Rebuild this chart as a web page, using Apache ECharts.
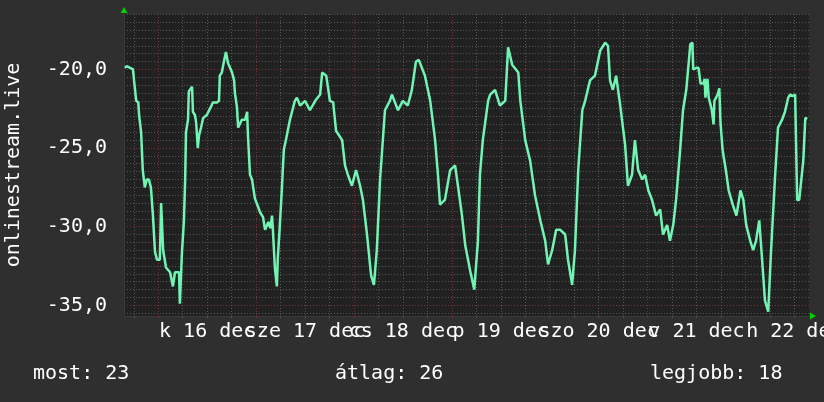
<!DOCTYPE html>
<html><head><meta charset="utf-8">
<script src="https://cdn.jsdelivr.net/npm/echarts@6/dist/echarts.min.js"></script>
<style>html,body{margin:0;padding:0;background:#2f2f2f}#c{width:824px;height:402px}</style>
</head><body><div id="c"></div>
<script>
// hours relative to 16 dec 00:00
const hours = [-8.2,-7.7,-6.9,-6.2,-5.9,-5.4,-4.9,-4.7,-4.2,-3.8,-3.3,-2.8,-2.3,-1.8,-1.3,-0.8,-0.3,0.4,0.7,1.2,1.9,2.9,3.6,4.1,5.1,5.3,5.8,6.3,6.6,
6.8,7.3,7.5,8.3,8.5,9.0,9.3,9.7,10.0,10.5,11.0,11.9,12.7,13.4,14.4,14.9,15.1,15.6,16.1,16.6,17.1,18.1,18.6,18.8,19.3,19.6,20.0,20.5,21.3,21.8,22.0,22.5,23.0,
23.7,25.0,25.7,26.2,27.0,27.5,27.9,28.1,28.6,29.1,29.3,29.8,30.3,30.8,31.3,32.3,33.5,34.0,34.8,36.0,37.2,38.5,39.7,40.2,41.2,42.1,42.9,43.6,45.1,45.8,46.5,47.5,48.5,49.5,50.2,51.2,52.2,52.9,53.6,54.4,
55.6,56.8,57.3,58.8,60.0,61.2,62.2,63.2,63.9,65.4,66.7,67.9,68.6,69.1,70.3,71.6,72.8,73.5,74.5,75.3,76.5,77.5,78.4,78.9,79.6,
80.9,81.4,82.6,83.8,85.1,85.8,86.8,88.3,88.8,90.0,91.2,92.4,93.7,94.9,95.6,96.6,97.6,98.6,99.8,100.5,101.5,102.2,103.0,104.0,
104.7,105.9,107.1,108.4,109.6,110.3,110.8,111.5,112.3,113.3,114.5,115.2,116.2,116.9,117.7,118.7,119.4,120.2,121.1,122.1,123.1,123.8,124.8,125.5,126.3,127.0,128.0,128.7,
129.5,130.5,131.0,131.2,132.0,132.5,133.0,133.7,134.0,134.2,134.7,135.0,135.4,135.7,136.2,136.4,137.2,137.6,137.9,138.4,139.2,139.9,140.9,141.8,142.8,143.5,144.2,145.2,145.9,146.6,147.4,148.1,148.8,149.6,150.3,151.3,152.0,153.0,153.7,154.5,155.0,155.7,156.2,156.7,157.2,158.2,158.7,159.2];
const values = [-19.9,-19.8,-19.9,-20.0,-20.8,-22.0,-22.1,-22.9,-24.0,-26.4,-27.5,-27.0,-27.0,-27.5,-29.3,-31.6,-32.1,-32.1,-28.5,-31.5,-32.6,-32.9,-33.8,-32.9,-32.9,-34.9,-31.7,-29.6,-27.0,
-24.0,-23.2,-21.4,-21.1,-22.7,-22.9,-23.4,-25.0,-24.2,-23.7,-23.1,-22.9,-22.5,-22.1,-22.1,-22.0,-20.4,-20.2,-19.5,-18.9,-19.6,-20.2,-20.7,-21.5,-22.4,-23.7,-23.7,-23.2,-23.2,-22.7,-24.2,-26.7,-27.0,
-28.2,-29.1,-29.4,-30.2,-29.7,-30.1,-29.3,-30.1,-32.6,-33.8,-32.1,-30.0,-27.7,-25.1,-24.5,-23.2,-22.0,-21.8,-22.3,-22.0,-22.6,-22.0,-21.6,-20.2,-20.4,-22.0,-22.1,-23.9,-24.5,-26.1,-26.7,-27.4,-26.4,-27.4,-28.3,-30.5,-33.1,-33.7,-31.5,-27.0,
-22.6,-22.0,-21.6,-22.6,-22.0,-22.3,-21.3,-19.5,-19.4,-20.4,-22.0,-24.5,-26.7,-28.6,-28.3,-26.4,-26.1,-27.4,-29.3,-31.2,-32.8,-34.0,-30.9,-26.7,-24.5,
-22.0,-21.6,-21.3,-22.3,-22.0,-18.6,-19.7,-20.2,-22.0,-24.5,-25.8,-28.0,-29.6,-30.9,-32.4,-31.5,-30.2,-30.2,-30.5,-32.1,-33.7,-31.5,-26.4,-22.6,
-22.0,-20.7,-20.4,-18.8,-18.3,-18.5,-20.7,-21.3,-20.4,-22.3,-24.8,-27.4,-26.7,-24.5,-26.4,-27.0,-26.7,-27.7,-28.3,-29.3,-28.9,-30.5,-29.9,-30.9,-29.9,-28.3,-25.1,-22.6,
-21.3,-18.4,-18.3,-20.0,-19.9,-19.9,-20.9,-20.9,-20.6,-21.8,-20.6,-21.8,-21.8,-22.5,-23.5,-22.0,-21.6,-21.2,-23.4,-25.1,-26.4,-27.7,-28.6,-29.3,-27.7,-28.3,-29.9,-30.9,-31.5,-30.9,-29.6,-32.1,-34.7,-35.4,-31.5,-26.7,-23.7,-23.2,-22.7,-21.8,-21.6,-21.7,-21.6,-28.3,-28.3,-25.8,-23.1,-23.1];

const dayLabels = ['k 16 dec','sze 17 dec','cs 18 dec','p 19 dec','szo 20 dec','v 21 dec','h 22 dec'];
const dayLabelHours = [12,36,60,84,108,132,156];
const dayStartHours = [0,24,48,72,96,120,144];
const yMajorTicks = [-35,-30,-25,-20];
const yAxisTitle = 'onlinestream.live';
const legendTexts = ['most: 23','átlag: 26','legjobb: 18'];

const X_MIN = -8.4, X_MAX = 159.6, Y_MIN = -35.68, Y_MAX = -16.48;
const minorX = [];
for (let h = -6; h <= 156; h += 6) if (h % 24 !== 0) minorX.push(h);
const minorY = [];
for (let v = -35.5; v <= -16.5; v += 0.5) if (Math.abs(v % 5) > 0.01) minorY.push(v);
// labels split over two axes so that overlapping neighbours are both drawn
const labelsEven = dayLabelHours.filter((h, i) => i % 2 === 0);
const labelsOdd = dayLabelHours.filter((h, i) => i % 2 === 1);

const FONT = 'DejaVu Sans Mono';
const gray = { color: '#565656', type: [1, 2], width: 1 };
const red = { color: '#7a3232', type: [1, 2], width: 1 };

const chart = echarts.init(document.getElementById('c'), null, { renderer: 'canvas' });
const baseX = { type: 'value', min: X_MIN, max: X_MAX, gridIndex: 0, position: 'bottom', offset: 0 };
const baseY = { type: 'value', min: Y_MIN, max: Y_MAX, gridIndex: 0, position: 'left', offset: 0 };
const noLine = { show: false, onZero: false };
const labelAxis = vals => Object.assign({}, baseX, {
  axisLine: noLine, axisTick: { show: false }, splitLine: { show: false },
  axisLabel: {
    show: true, customValues: vals, margin: 6, hideOverlap: false,
    showMinLabel: true, showMaxLabel: true,
    color: '#ffffff', fontFamily: FONT, fontSize: 20,
    formatter: v => dayLabels[dayLabelHours.indexOf(Math.round(v))] || ''
  }
});
chart.setOption({
  animation: false,
  backgroundColor: '#2f2f2f',
  grid: { left: 124, right: 15, top: 14, bottom: 86, show: true, backgroundColor: '#212121', borderWidth: 0, containLabel: false, outerBoundsMode: 'none' },
  xAxis: [
    Object.assign({}, baseX, {
      axisLine: { show: true, onZero: false, lineStyle: { color: '#3a3a3a', width: 1 } },
      axisTick: { show: true, customValues: minorX, length: 2, lineStyle: { color: '#555' } },
      axisLabel: { show: false },
      splitLine: { show: true, lineStyle: gray }
    }),
    Object.assign({}, baseX, {
      axisLine: noLine,
      axisTick: { show: true, customValues: dayStartHours, length: 2, lineStyle: { color: '#7a3232' } },
      axisLabel: { show: false },
      splitLine: { show: true, lineStyle: red }
    }),
    labelAxis(labelsEven),
    labelAxis(labelsOdd),
    Object.assign({}, baseX, {
      axisLine: { show: true, onZero: false, symbol: ['none', 'triangle'], symbolSize: [7, 6], symbolOffset: [0, 4], lineStyle: { color: '#00d000', width: 0 } },
      axisTick: { show: false }, axisLabel: { show: false }, splitLine: { show: false }
    })
  ],
  yAxis: [
    Object.assign({}, baseY, {
      axisLine: { show: true, onZero: false, lineStyle: { color: '#3a3a3a', width: 1 } },
      axisTick: { show: false, customValues: minorY },
      axisLabel: { show: false },
      splitLine: { show: true, lineStyle: gray }
    }),
    Object.assign({}, baseY, {
      axisLine: noLine,
      axisTick: { show: false, customValues: yMajorTicks },
      axisLabel: {
        show: true, customValues: yMajorTicks, margin: 17, hideOverlap: false,
        showMinLabel: true, showMaxLabel: true,
        color: '#ffffff', fontFamily: FONT, fontSize: 20,
        formatter: v => v.toFixed(1).replace('.', ',')
      },
      splitLine: { show: true, lineStyle: red },
      name: yAxisTitle, nameLocation: 'middle', nameRotate: 90, nameGap: 100,
      nameTextStyle: { color: '#ffffff', fontFamily: FONT, fontSize: 20 }
    }),
    Object.assign({}, baseY, {
      axisLine: { show: true, onZero: false, symbol: ['none', 'triangle'], symbolSize: [7, 6], symbolOffset: [0, 4], lineStyle: { color: '#00d000', width: 0 } },
      axisTick: { show: false }, axisLabel: { show: false }, splitLine: { show: false }
    })
  ],
  series: [{
    type: 'line', xAxisIndex: 0, yAxisIndex: 0,
    data: hours.map((h, i) => [h, values[i]]),
    showSymbol: false, symbol: 'none',
    lineStyle: { color: '#72f4b4', width: 2.5 },
    z: 10
  }],
  graphic: [
    { type: 'text', left: 33, top: 364, style: { text: legendTexts[0], font: '20px "DejaVu Sans Mono"', fill: '#ffffff' } },
    { type: 'text', left: 335, top: 364, style: { text: legendTexts[1], font: '20px "DejaVu Sans Mono"', fill: '#ffffff' } },
    { type: 'text', left: 650, top: 364, style: { text: legendTexts[2], font: '20px "DejaVu Sans Mono"', fill: '#ffffff' } }
  ]
});
</script></body></html>
